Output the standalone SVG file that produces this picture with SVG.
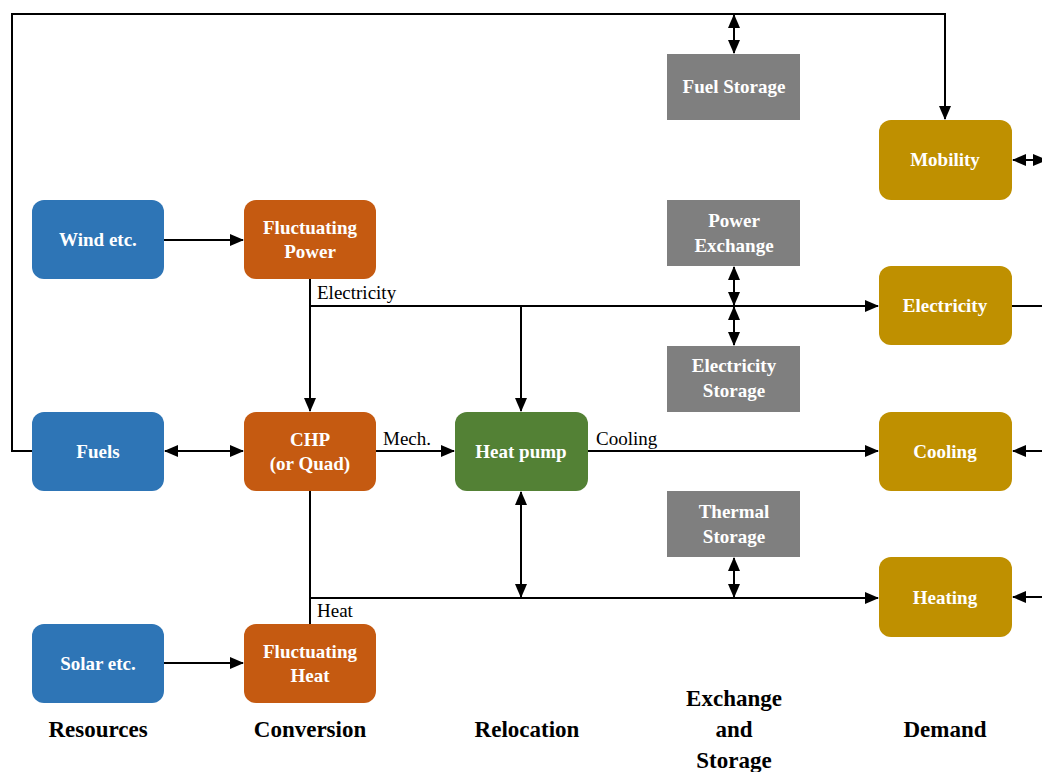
<svg xmlns="http://www.w3.org/2000/svg" width="1042" height="772" viewBox="0 0 1042 772" font-family="'Liberation Serif', 'Times New Roman', 'DejaVu Serif', serif">
<defs>
<marker id="ah" markerWidth="14" markerHeight="12" refX="13" refY="6" orient="auto-start-reverse" markerUnits="userSpaceOnUse"><path d="M0,0 L14,6 L0,12 Z" fill="#000"/></marker>
<style>
.n rect{stroke:none}
.b rect{fill:#2E75B6}
.o rect{fill:#C55A11}
.g rect{fill:#538135}
.s rect{fill:#7F7F7F}
.y rect{fill:#BF9000}
.n text{font-weight:bold;font-size:19px;fill:#fff;text-anchor:middle}
.c{fill:none;stroke:#000;stroke-width:2}
.lbl{font-size:19px;fill:#000}
.col{font-weight:bold;font-size:23px;fill:#000;text-anchor:middle}
</style>
</defs>
<rect width="1042" height="772" fill="#fff"/>
<g id="connectors">
<path class="c" d="M32,451 H12 V14 H945 V119" marker-end="url(#ah)"/>
<path class="c" d="M734,15 V53" marker-start="url(#ah)" marker-end="url(#ah)"/>
<path class="c" d="M1013,160 H1046" marker-start="url(#ah)" marker-end="url(#ah)"/>
<path class="c" d="M1012,306 H1042"/>
<path class="c" d="M1042,451 H1013" marker-end="url(#ah)"/>
<path class="c" d="M1042,597 H1013" marker-end="url(#ah)"/>
<path class="c" d="M164,240 H243" marker-end="url(#ah)"/>
<path class="c" d="M164,663 H243" marker-end="url(#ah)"/>
<path class="c" d="M310,279 V411" marker-end="url(#ah)"/>
<path class="c" d="M310,306 H878" marker-end="url(#ah)"/>
<path class="c" d="M521,306 V411" marker-end="url(#ah)"/>
<path class="c" d="M734,267 V305" marker-start="url(#ah)" marker-end="url(#ah)"/>
<path class="c" d="M734,307 V345" marker-start="url(#ah)" marker-end="url(#ah)"/>
<path class="c" d="M165,451 H243" marker-start="url(#ah)" marker-end="url(#ah)"/>
<path class="c" d="M376,451 H454" marker-end="url(#ah)"/>
<path class="c" d="M588,451 H878" marker-end="url(#ah)"/>
<path class="c" d="M310,491 V624"/>
<path class="c" d="M310,598 H878" marker-end="url(#ah)"/>
<path class="c" d="M521,492 V597" marker-start="url(#ah)" marker-end="url(#ah)"/>
<path class="c" d="M734,558 V597" marker-start="url(#ah)" marker-end="url(#ah)"/>
<text class="lbl" x="317" y="299" font-family="'Liberation Serif', 'DejaVu Serif', serif">Electricity</text>
<text class="lbl" x="383" y="445" font-family="'Liberation Serif', 'DejaVu Serif', serif">Mech.</text>
<text class="lbl" x="596" y="445" font-family="'Liberation Serif', 'DejaVu Serif', serif">Cooling</text>
<text class="lbl" x="317" y="617" font-family="'Liberation Serif', 'DejaVu Serif', serif">Heat</text>
</g>
<g id="wind" class="n b"><rect x="32" y="200" width="132" height="79" rx="12"/><text x="98" y="246">Wind etc.</text></g>
<g id="fuels" class="n b"><rect x="32" y="412" width="132" height="79" rx="12"/><text x="98" y="458">Fuels</text></g>
<g id="solar" class="n b"><rect x="32" y="624" width="132" height="79" rx="12"/><text x="98" y="670">Solar etc.</text></g>
<g id="fluct-power" class="n o"><rect x="244" y="200" width="132" height="79" rx="12"/><text x="310" y="234">Fluctuating</text><text x="310" y="258">Power</text></g>
<g id="chp" class="n o"><rect x="244" y="412" width="132" height="79" rx="12"/><text x="310" y="446">CHP</text><text x="310" y="470">(or Quad)</text></g>
<g id="fluct-heat" class="n o"><rect x="244" y="624" width="132" height="79" rx="12"/><text x="310" y="658">Fluctuating</text><text x="310" y="682">Heat</text></g>
<g id="heat-pump" class="n g"><rect x="455" y="412" width="133" height="79" rx="12"/><text x="521" y="458">Heat pump</text></g>
<g id="fuel-storage" class="n s"><rect x="667" y="54" width="133" height="66"/><text x="734" y="93">Fuel Storage</text></g>
<g id="power-exchange" class="n s"><rect x="667" y="200" width="133" height="66"/><text x="734" y="227">Power</text><text x="734" y="252">Exchange</text></g>
<g id="electricity-storage" class="n s"><rect x="667" y="346" width="133" height="66"/><text x="734" y="372">Electricity</text><text x="734" y="397">Storage</text></g>
<g id="thermal-storage" class="n s"><rect x="667" y="491" width="133" height="66"/><text x="734" y="518">Thermal</text><text x="734" y="543">Storage</text></g>
<g id="mobility" class="n y"><rect x="879" y="120" width="133" height="80" rx="12"/><text x="945" y="166">Mobility</text></g>
<g id="electricity" class="n y"><rect x="879" y="266" width="133" height="79" rx="12"/><text x="945" y="312">Electricity</text></g>
<g id="cooling" class="n y"><rect x="879" y="412" width="133" height="79" rx="12"/><text x="945" y="458">Cooling</text></g>
<g id="heating" class="n y"><rect x="879" y="557" width="133" height="80" rx="12"/><text x="945" y="604">Heating</text></g>
<g id="columns">
<text class="col" x="98" y="737">Resources</text>
<text class="col" x="310" y="737">Conversion</text>
<text class="col" x="527" y="737">Relocation</text>
<text class="col" x="734" y="706">Exchange</text>
<text class="col" x="734" y="737">and</text>
<text class="col" x="734" y="768">Storage</text>
<text class="col" x="945" y="737">Demand</text>
</g>
</svg>
